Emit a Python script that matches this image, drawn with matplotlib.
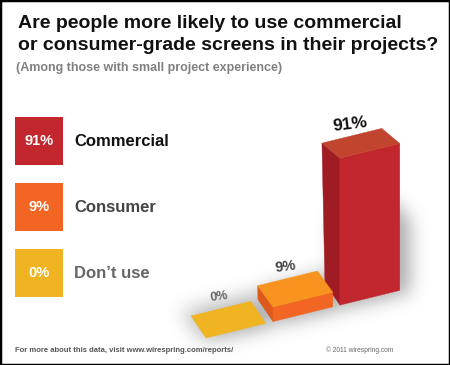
import numpy as np
import matplotlib
matplotlib.use("Agg")
import matplotlib.pyplot as plt
from matplotlib.patches import Polygon, Rectangle
from matplotlib.path import Path

plt.rcParams['font.family'] = ['Liberation Sans', 'DejaVu Sans']

# data
categories = ["Commercial", "Consumer", "Don\u2019t use"]
values = [91, 9, 0]
box_colors = ["#c1272d", "#f26522", "#f0b423"]
text_colors = ["#111111", "#444444", "#666666"]
bar_label_colors = ["#111111", "#444444", "#666666"]
bar_label_sizes = [12.5, 10.5, 9]

# bar faces (front, left side, top)
face_colors = {
    "Commercial": ("#c1272d", "#a01c24", "#c1442f"),
    "Consumer": ("#f26522", "#dd5a1c", "#f7931e"),
    "Don\u2019t use": ("#f0b423", "#e0a41c", "#f0b423"),
}

W, H = 450, 365

# simple projection: world (x, depth, z) -> pixel coords
origin = np.array([206.0, 338.0])
u_vec = np.array([59.8, -14.7])      # one bar width along the row
v_ground = np.array([-15.0, -22.0])  # depth vector on the floor
v_top = np.array([-18.0, -15.0])     # depth vector at z = 91
z_px = 1.615                          # pixels per percent
pitch = 1.12
zmax = 91.0


def proj(x, d, z):
    v = v_ground + (v_top - v_ground) * (z / zmax)
    p = origin + x * u_vec + d * v + np.array([0.0, -z * z_px])
    return p


def bar_faces(i, val):
    # bars drawn from left (Don't use) to right (Commercial)
    x0 = (len(values) - 1 - i) * pitch
    x1 = x0 + 1.0
    front = [proj(x0, 0, 0), proj(x1, 0, 0), proj(x1, 0, val), proj(x0, 0, val)]
    left = [proj(x0, 0, 0), proj(x0, 1, 0), proj(x0, 1, val), proj(x0, 0, val)]
    top = [proj(x0, 0, val), proj(x1, 0, val), proj(x1, 1, val), proj(x0, 1, val)]
    return front, left, top


def gauss_blur(img, sigma):
    r = int(3 * sigma)
    k = np.exp(-0.5 * (np.arange(-r, r + 1) / sigma) ** 2)
    k /= k.sum()
    img = np.apply_along_axis(lambda m: np.convolve(m, k, mode="same"), 0, img)
    img = np.apply_along_axis(lambda m: np.convolve(m, k, mode="same"), 1, img)
    return img


fig = plt.figure(figsize=(4.5, 3.65), dpi=100)
ax = fig.add_axes([0, 0, 1, 1])
ax.set_xlim(0, W)
ax.set_ylim(H, 0)
ax.axis("off")

# soft shadow under / behind the bars
yy, xx = np.mgrid[0:H, 0:W]
pts = np.column_stack([xx.ravel() + 0.5, yy.ravel() + 0.5])
mask = np.zeros(H * W)
for i, val in enumerate(values):
    sh = min(val, 45)
    front, left, top = bar_faces(i, sh)
    for face in (front, left, top):
        poly = np.array(face) + np.array([10.0, 2.0])
        mask = np.maximum(mask, Path(poly).contains_points(pts))
    # floor footprint
    x0 = (len(values) - 1 - i) * pitch
    foot = np.array([proj(x0 - 0.1, -0.1, 0), proj(x0 + 1.1, -0.1, 0),
                     proj(x0 + 1.1, 1.3, 0), proj(x0 - 0.1, 1.3, 0)])
    mask = np.maximum(mask, Path(foot).contains_points(pts) * 0.7)
mask = gauss_blur(mask.reshape(H, W), 9)
shadow = np.zeros((H, W, 4))
shadow[..., :3] = 0.35
shadow[..., 3] = np.clip(mask * 0.5, 0, 1)
ax.imshow(shadow, extent=[0, W, H, 0], interpolation="bilinear", zorder=1)

# bars, back (Commercial) to front
for i, (cat, val) in enumerate(zip(categories, values)):
    front, left, top = bar_faces(i, val)
    c_front, c_left, c_top = face_colors[cat]
    if val > 0:
        ax.add_patch(Polygon(left, closed=True, fc=c_left, ec=c_left, lw=0.3, zorder=2 + i))
        ax.add_patch(Polygon(front, closed=True, fc=c_front, ec=c_front, lw=0.3, zorder=2 + i))
    ax.add_patch(Polygon(top, closed=True, fc=c_top, ec=c_top, lw=0.3, zorder=2 + i))
    x0 = (len(values) - 1 - i) * pitch
    lx, ly = proj(x0 + 0.5, 1.0, val)
    ax.annotate(f"{val}%", (lx, ly), xytext=(-1.5, 8.5), textcoords="offset points",
                ha="center", va="center", fontsize=bar_label_sizes[i],
                fontweight="bold", color=bar_label_colors[i], rotation=7,
                zorder=10)

# legend boxes
for i, (cat, val) in enumerate(zip(categories, values)):
    top_y = 117 + 66 * i
    ax.add_patch(Rectangle((15, top_y), 48, 48, fc=box_colors[i], ec="none", zorder=3))
    ax.text(39, top_y + 24, f"{val}%", ha="center", va="center", color="white",
            fontsize=10.5, fontweight="bold", zorder=4)
    ax.text(74, top_y + 24, cat, ha="left", va="center", color=text_colors[i],
            fontsize=12, fontweight="bold", zorder=4)

# titles
ax.text(18, 28, "Are people more likely to use commercial", fontsize=14,
        fontweight="bold", color="#111111", va="baseline")
ax.text(18, 50, "or consumer-grade screens in their projects?", fontsize=14,
        fontweight="bold", color="#111111", va="baseline")
ax.text(16, 71, "(Among those with small project experience)", fontsize=9,
        fontweight="bold", color="#808080", va="baseline")

# footer
ax.text(15, 352, "For more about this data, visit www.wirespring.com/reports/",
        fontsize=5.5, fontweight="bold", color="#555555", va="baseline")
ax.text(326, 352, "\u00a9 2011 wirespring.com", fontsize=4.8, color="#666666",
        va="baseline")

# frame
fig.patches.append(Rectangle((0, 0), 1, 1, transform=fig.transFigure, fill=False,
                             ec="black", lw=2.5, zorder=20))

fig.savefig("out.png", dpi=100)
